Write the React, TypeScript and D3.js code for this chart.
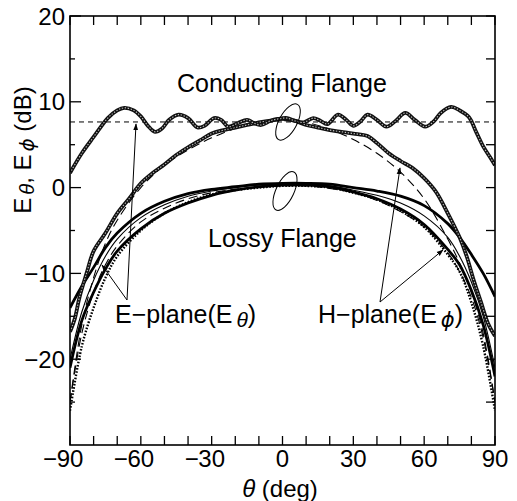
import React from "react";
import * as d3 from "d3";

// ---- data ----
const xTickValues = d3.range(-90, 91, 10);
const xTickLabels = [-90, -60, -30, 0, 30, 60, 90];
const yTickLabels = [20, 10, 0, -10, -20];
const yMinorTicks = [15, 5, -5, -15, -25];

// Conducting flange, E-plane measured (wavy)
const condETheta = [-90, -85, -80, -74, -70, -67, -63, -60, -57, -54, -51, -48, -44, -40, -36, -33, -29, -26, -23, -19, -15, -12, -9, -5, -2, 2, 5, 9, 13, 16, 19, 23.5, 27, 30, 33, 36, 40, 44, 48, 52, 56, 60.4, 64, 67, 71.4, 75, 79, 82, 85, 88, 90];
const condEVal = [1.7, 4.0, 5.9, 8.1, 9.0, 9.3, 9.0, 8.3, 7.2, 6.5, 6.9, 7.9, 8.5, 8.1, 7.0, 7.2, 8.1, 7.9, 7.1, 7.5, 7.9, 7.5, 7.3, 7.8, 8.0, 8.1, 7.8, 7.6, 8.1, 7.8, 7.4, 8.5, 7.9, 7.2, 7.7, 8.5, 7.9, 7.1, 7.8, 8.7, 7.9, 7.1, 7.7, 8.7, 9.4, 9.0, 8.2, 6.5, 4.8, 3.5, 2.6];

// Conducting flange, H-plane measured
const condHTheta = [-90, -88, -86, -83, -80, -75, -70, -65, -60, -55, -50, -45, -40, -35, -30, -25, -20, -15, -10, -5, 0, 5, 10, 15, 20, 25, 30, 36, 40, 45, 50, 55, 60, 65, 70, 75, 78, 81, 84, 87, 90];
const condHVal = [-16.8, -15.3, -12.8, -10.0, -7.4, -5.3, -3.0, -1.3, 0.5, 1.7, 2.7, 3.8, 4.7, 5.5, 6.3, 6.7, 7.0, 7.3, 7.6, 7.8, 8.0, 7.8, 7.3, 7.0, 6.7, 6.5, 6.3, 6.0, 5.2, 4.0, 3.1, 2.3, 1.1, -0.5, -3.0, -5.8, -8.0, -10.8, -13.3, -15.8, -17.3];

// common grid for smooth curves
const gridTheta = [-90, -85, -80, -75, -70, -60, -50, -40, -30, -20, -10, 0, 10, 20, 30, 40, 50, 60, 70, 75, 80, 85, 90];
const condHTheory = [-25, -16, -10.5, -6.5, -3.8, 0, 2.6, 4.4, 5.8, 6.9, 7.6, 7.8, 7.6, 6.8, 5.6, 4.0, 1.8, -1.3, -6, -8.8, -12.2, -17, -25];
const lossyA = [-14, -11.5, -9.3, -7, -5.3, -3, -1.6, -0.7, -0.2, 0.1, 0.4, 0.5, 0.5, 0.4, 0, -0.4, -1.0, -2.1, -4.2, -5.8, -7.8, -10, -12.7];
const lossyB = [-20, -14.5, -10.8, -8, -6, -3.5, -2, -1, -0.4, 0, 0.3, 0.4, 0.4, 0.2, -0.3, -0.9, -1.8, -3.3, -5.8, -8, -11, -15, -21];
const lossyC = [-21, -15.5, -12.2, -9.5, -7.4, -4.8, -3, -1.8, -0.9, -0.3, 0.1, 0.3, 0.3, 0.1, -0.5, -1.3, -2.5, -4.3, -7.2, -9, -12, -16, -22];
const lossyD = [-25, -17, -12.2, -9, -6.8, -4, -2.4, -1.3, -0.6, -0.2, 0.1, 0.2, 0.2, -0.1, -0.6, -1.5, -2.8, -4.6, -7.6, -9.8, -12.8, -17.5, -25];
const lossyE = [-26, -18.5, -14, -10.5, -8, -5, -3, -1.7, -0.8, -0.3, 0, 0.2, 0.2, 0, -0.6, -1.4, -2.7, -4.6, -7.8, -9.8, -13.4, -18.5, -26];
const refLevel = 7.65;

const FONT = "'Liberation Sans', Arial, Helvetica, sans-serif";

export default function App() {
  const W = 517, H = 501;
  const m = { l: 70, r: 495, t: 16, b: 445 };
  const x = d3.scaleLinear().domain([-90, 90]).range([m.l, m.r]);
  const y = d3.scaleLinear().domain([-30, 20]).range([m.b, m.t]);
  const line = d3
    .line<[number, number]>()
    .x((d) => x(d[0]))
    .y((d) => y(d[1]))
    .curve(d3.curveCatmullRom.alpha(0.5));
  const zip = (t: number[], v: number[]) => t.map((tt, i) => [tt, v[i]] as [number, number]);

  const circlesPath = (d: string | null, key: string) => (
    <g key={key}>
      <path d={d || ""} fill="none" stroke="#111" strokeWidth={3.8} />
      <path d={d || ""} fill="none" stroke="#c0c0c0" strokeWidth={1.1} strokeDasharray="1.4 1.6" />
    </g>
  );

  const digits = (v: number) => String(Math.abs(v));
  return (
    <svg width={W} height={H} style={{ position: "absolute", left: 0, top: 0 }} fontFamily={FONT}>
      <defs>
        <marker id="ah" viewBox="0 0 10 10" refX="9" refY="5" markerWidth="7" markerHeight="7" orient="auto">
          <path d="M0,1.5 L10,5 L0,8.5 Z" fill="#000" />
        </marker>
        <clipPath id="clip">
          <rect x={m.l} y={m.t} width={m.r - m.l} height={m.b - m.t} />
        </clipPath>
      </defs>
      <rect width={W} height={H} fill="#fff" />

      <g clipPath="url(#clip)">
        <line x1={x(-90)} x2={x(90)} y1={y(refLevel)} y2={y(refLevel)} stroke="#000" strokeWidth={1} strokeDasharray="5 4" />
        <path d={line(zip(gridTheta, lossyD)) || ""} fill="none" stroke="#000" strokeWidth={1.1} strokeDasharray="9 5" />
        <path d={line(zip(gridTheta, lossyB)) || ""} fill="none" stroke="#000" strokeWidth={1.1} />
        <path d={line(zip(gridTheta, lossyA)) || ""} fill="none" stroke="#000" strokeWidth={2.8} />
        <path d={line(zip(gridTheta, lossyC)) || ""} fill="none" stroke="#000" strokeWidth={2.8} />
        <path d={line(zip(gridTheta, lossyE)) || ""} fill="none" stroke="#000" strokeWidth={2.4} strokeDasharray="1.6 1.6" />
        <path d={line(zip(gridTheta, condHTheory)) || ""} fill="none" stroke="#000" strokeWidth={1.1} strokeDasharray="9 5" />
        {circlesPath(line(zip(condHTheta, condHVal)), "ch")}
        {circlesPath(line(zip(condETheta, condEVal)), "ce")}
      </g>

      <rect x={m.l} y={m.t} width={m.r - m.l} height={m.b - m.t} fill="none" stroke="#000" strokeWidth={1.6} />

      {xTickValues.map((v) => (
        <g key={"xt" + v}>
          <line x1={x(v)} x2={x(v)} y1={m.b} y2={m.b - 9} stroke="#000" strokeWidth={1.3} />
          <line x1={x(v)} x2={x(v)} y1={m.t} y2={m.t + 9} stroke="#000" strokeWidth={1.3} />
        </g>
      ))}
      {xTickLabels.map((v) => (
        <g key={"xl" + v} fontSize={24}>
          <text x={x(v)} y={467} textAnchor="middle">{digits(v)}</text>
          {v < 0 && (
            <text x={x(v) - 13} y={467} textAnchor="end">−</text>
          )}
        </g>
      ))}

      {yTickLabels.map((v) => (
        <g key={"yt" + v}>
          <line x1={m.l} x2={m.l + 11} y1={y(v)} y2={y(v)} stroke="#000" strokeWidth={1.3} />
          <line x1={m.r} x2={m.r - 9} y1={y(v)} y2={y(v)} stroke="#000" strokeWidth={1.3} />
          <text x={65} y={y(v) + 8.5} fontSize={24} textAnchor="end">
            {v < 0 ? "−" + digits(v) : digits(v)}
          </text>
        </g>
      ))}
      {yMinorTicks.map((v) => (
        <g key={"ym" + v}>
          <line x1={m.l} x2={m.l + 5} y1={y(v)} y2={y(v)} stroke="#000" strokeWidth={1.3} />
          <line x1={m.r} x2={m.r - 9} y1={y(v)} y2={y(v)} stroke="#000" strokeWidth={1.3} />
        </g>
      ))}

      <text x={280} y={497} fontSize={24} textAnchor="middle">
        <tspan fontStyle="italic">θ</tspan> (deg)
      </text>
      <text transform="translate(31,150) rotate(-90)" fontSize={24} textAnchor="middle">
        E<tspan fontStyle="italic" fontSize={20} dx={3} dy={3}>θ</tspan>
        <tspan dy={-3}>, E</tspan>
        <tspan fontStyle="italic" fontSize={20} dx={3} dy={3} fontFamily="'DejaVu Sans', sans-serif">ϕ</tspan>
        <tspan dy={-3}> (dB)</tspan>
      </text>

      <text x={177} y={92} fontSize={25}>Conducting Flange</text>
      <text x={208} y={247} fontSize={25}>Lossy Flange</text>
      <ellipse cx={288} cy={122} rx={9} ry={20} transform="rotate(28 288 122)" fill="none" stroke="#000" strokeWidth={1} />
      <ellipse cx={285} cy={191} rx={9} ry={21} transform="rotate(25 285 191)" fill="none" stroke="#000" strokeWidth={1} />

      <text x={115} y={323} fontSize={25}>
        E−plane(E<tspan fontStyle="italic" fontSize={21} dx={4} dy={4}>θ</tspan>
        <tspan dy={-4}>)</tspan>
      </text>
      <text x={318} y={323} fontSize={25}>
        H−plane(E<tspan fontStyle="italic" fontSize={21} dx={4} dy={4} fontFamily="'DejaVu Sans', sans-serif">ϕ</tspan>
        <tspan dy={-4}>)</tspan>
      </text>

      <line x1={127} y1={300} x2={136} y2={124} stroke="#000" strokeWidth={1} markerEnd="url(#ah)" />
      <line x1={127} y1={300} x2={102} y2={265} stroke="#000" strokeWidth={1} markerEnd="url(#ah)" />
      <line x1={380} y1={302} x2={400} y2={168} stroke="#000" strokeWidth={1} markerEnd="url(#ah)" />
      <line x1={380} y1={302} x2={443} y2={250} stroke="#000" strokeWidth={1} markerEnd="url(#ah)" />
    </svg>
  );
}
